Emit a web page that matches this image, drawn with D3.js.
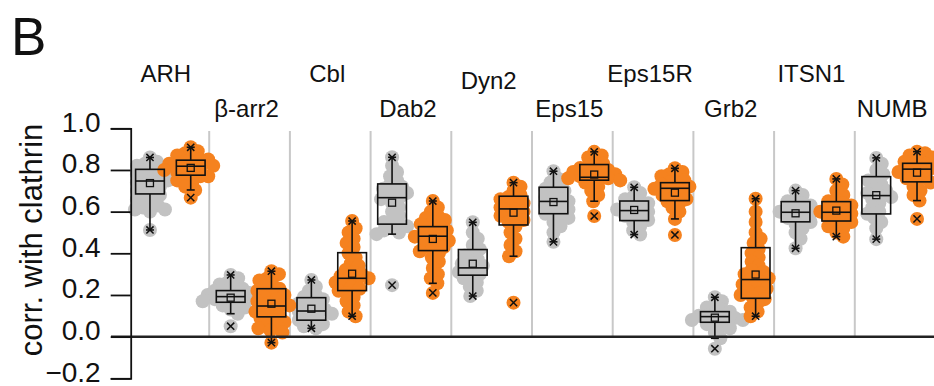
<!DOCTYPE html>
<html>
<head>
<meta charset="utf-8">
<script src="https://cdn.jsdelivr.net/npm/d3@7"></script>
<style>
  body { margin: 0; background: #fff; }
  svg { display: block; font-family: "Liberation Sans", Arial, sans-serif; }
</style>
</head>
<body>
<div id="chart"></div>
<script>
const categories = ["ARH", "\u03b2-arr2", "Cbl", "Dab2", "Dyn2", "Eps15", "Eps15R", "Grb2", "ITSN1", "NUMB"];
const yTicks = [-0.2, 0.0, 0.2, 0.4, 0.6, 0.8, 1.0];

// box stats per category: [xLow, whiskerLow, q1, median, q3, whiskerHigh, xHigh, mean]
const grayStats = [
  [0.512, 0.512, 0.685, 0.747, 0.803, 0.86, 0.86, 0.737],
  [0.05, 0.11, 0.165, 0.192, 0.221, 0.296, 0.296, 0.187],
  [0.04, 0.04, 0.079, 0.123, 0.187, 0.272, 0.272, 0.134],
  [0.247, 0.492, 0.54, 0.667, 0.733, 0.861, 0.861, 0.643],
  [0.195, 0.195, 0.295, 0.33, 0.418, 0.549, 0.549, 0.35],
  [0.455, 0.455, 0.59, 0.649, 0.717, 0.794, 0.794, 0.646],
  [0.49, 0.49, 0.557, 0.605, 0.651, 0.717, 0.717, 0.608],
  [-0.058, -0.008, 0.069, 0.096, 0.12, 0.189, 0.189, 0.091],
  [0.424, 0.424, 0.551, 0.597, 0.648, 0.701, 0.701, 0.592],
  [0.468, 0.468, 0.589, 0.677, 0.768, 0.858, 0.858, 0.679]
];
const orangeStats = [
  [0.667, 0.704, 0.775, 0.818, 0.847, 0.909, 0.909, 0.81],
  [-0.029, -0.029, 0.095, 0.147, 0.23, 0.314, 0.314, 0.158],
  [0.098, 0.098, 0.221, 0.28, 0.403, 0.555, 0.555, 0.302],
  [0.21, 0.256, 0.413, 0.482, 0.528, 0.651, 0.651, 0.469],
  [0.163, 0.386, 0.536, 0.613, 0.674, 0.739, 0.739, 0.595],
  [0.579, 0.65, 0.751, 0.765, 0.826, 0.887, 0.887, 0.778],
  [0.488, 0.565, 0.653, 0.712, 0.739, 0.808, 0.808, 0.691],
  [0.098, 0.098, 0.184, 0.274, 0.427, 0.662, 0.662, 0.298],
  [0.48, 0.48, 0.555, 0.597, 0.648, 0.757, 0.757, 0.605],
  [0.565, 0.653, 0.743, 0.804, 0.832, 0.888, 0.888, 0.787]
];

// individual cells (estimated from the dots)
const grayPoints = [
  [0.86, 0.84, 0.83, 0.82, 0.81, 0.80, 0.80, 0.79, 0.78, 0.77, 0.76, 0.75, 0.75, 0.74, 0.73, 0.72, 0.71, 0.70, 0.69, 0.68, 0.67, 0.66, 0.64, 0.63, 0.62, 0.61, 0.61, 0.60, 0.512],
  [0.296, 0.28, 0.26, 0.25, 0.24, 0.23, 0.22, 0.22, 0.21, 0.20, 0.20, 0.19, 0.19, 0.18, 0.18, 0.17, 0.17, 0.16, 0.15, 0.14, 0.13, 0.11, 0.05],
  [0.272, 0.24, 0.22, 0.20, 0.19, 0.18, 0.17, 0.16, 0.15, 0.14, 0.13, 0.12, 0.12, 0.11, 0.10, 0.09, 0.08, 0.07, 0.06, 0.05, 0.04],
  [0.861, 0.82, 0.79, 0.77, 0.75, 0.73, 0.72, 0.71, 0.70, 0.69, 0.68, 0.67, 0.66, 0.64, 0.62, 0.60, 0.58, 0.56, 0.55, 0.54, 0.53, 0.52, 0.51, 0.50, 0.492, 0.247],
  [0.549, 0.50, 0.47, 0.44, 0.42, 0.40, 0.39, 0.37, 0.36, 0.35, 0.34, 0.33, 0.32, 0.31, 0.30, 0.29, 0.28, 0.26, 0.24, 0.22, 0.195],
  [0.794, 0.76, 0.74, 0.72, 0.71, 0.70, 0.68, 0.67, 0.66, 0.65, 0.64, 0.63, 0.62, 0.61, 0.60, 0.59, 0.58, 0.57, 0.55, 0.53, 0.50, 0.455],
  [0.717, 0.69, 0.67, 0.66, 0.65, 0.64, 0.63, 0.62, 0.61, 0.61, 0.60, 0.59, 0.58, 0.57, 0.56, 0.55, 0.53, 0.51, 0.49],
  [0.189, 0.17, 0.15, 0.14, 0.13, 0.12, 0.11, 0.10, 0.10, 0.09, 0.09, 0.08, 0.08, 0.07, 0.06, 0.05, 0.04, 0.02, -0.008, -0.058],
  [0.701, 0.68, 0.66, 0.65, 0.64, 0.63, 0.62, 0.61, 0.60, 0.60, 0.59, 0.58, 0.57, 0.56, 0.55, 0.54, 0.52, 0.50, 0.47, 0.424],
  [0.858, 0.83, 0.80, 0.78, 0.76, 0.75, 0.73, 0.71, 0.70, 0.69, 0.68, 0.67, 0.66, 0.64, 0.62, 0.60, 0.59, 0.57, 0.55, 0.52, 0.468]
];
const orangePoints = [
  [0.909, 0.89, 0.88, 0.87, 0.86, 0.85, 0.85, 0.84, 0.83, 0.83, 0.82, 0.82, 0.81, 0.80, 0.80, 0.79, 0.78, 0.77, 0.77, 0.76, 0.75, 0.74, 0.72, 0.704, 0.667],
  [0.314, 0.30, 0.28, 0.27, 0.25, 0.24, 0.23, 0.22, 0.21, 0.20, 0.19, 0.18, 0.17, 0.16, 0.15, 0.15, 0.14, 0.13, 0.12, 0.11, 0.10, 0.09, 0.08, 0.07, 0.06, 0.05, 0.04, 0.03, 0.02, -0.029],
  [0.555, 0.52, 0.50, 0.47, 0.45, 0.43, 0.40, 0.38, 0.35, 0.34, 0.32, 0.31, 0.30, 0.29, 0.28, 0.28, 0.27, 0.26, 0.25, 0.24, 0.23, 0.22, 0.21, 0.19, 0.17, 0.15, 0.12, 0.098],
  [0.651, 0.62, 0.60, 0.58, 0.57, 0.56, 0.55, 0.54, 0.53, 0.52, 0.51, 0.50, 0.49, 0.48, 0.48, 0.47, 0.46, 0.45, 0.44, 0.43, 0.42, 0.41, 0.40, 0.38, 0.36, 0.33, 0.30, 0.28, 0.256, 0.21],
  [0.739, 0.72, 0.70, 0.68, 0.67, 0.66, 0.65, 0.64, 0.63, 0.62, 0.61, 0.60, 0.59, 0.58, 0.57, 0.56, 0.55, 0.53, 0.50, 0.47, 0.44, 0.41, 0.386, 0.163],
  [0.887, 0.87, 0.86, 0.84, 0.83, 0.82, 0.81, 0.80, 0.80, 0.79, 0.78, 0.78, 0.77, 0.77, 0.76, 0.76, 0.75, 0.75, 0.74, 0.72, 0.70, 0.68, 0.65, 0.579],
  [0.808, 0.79, 0.78, 0.77, 0.76, 0.75, 0.74, 0.73, 0.72, 0.72, 0.71, 0.70, 0.69, 0.68, 0.67, 0.66, 0.65, 0.64, 0.62, 0.60, 0.565, 0.488],
  [0.662, 0.60, 0.55, 0.50, 0.47, 0.45, 0.42, 0.40, 0.38, 0.36, 0.34, 0.32, 0.31, 0.30, 0.29, 0.28, 0.27, 0.26, 0.25, 0.24, 0.23, 0.22, 0.21, 0.20, 0.19, 0.18, 0.16, 0.14, 0.12, 0.098],
  [0.757, 0.73, 0.70, 0.68, 0.66, 0.65, 0.64, 0.63, 0.62, 0.61, 0.60, 0.60, 0.59, 0.58, 0.57, 0.56, 0.55, 0.54, 0.53, 0.52, 0.50, 0.48],
  [0.888, 0.88, 0.87, 0.86, 0.85, 0.84, 0.83, 0.82, 0.81, 0.80, 0.80, 0.79, 0.78, 0.77, 0.76, 0.75, 0.74, 0.72, 0.70, 0.68, 0.653, 0.565]
];

const W = 934, H = 386;
const svg = d3.select("#chart").append("svg").attr("width", W).attr("height", H);

const y = d3.scaleLinear().domain([-0.2, 1.0]).range([378.3, 128.3]);
const x = d3.scaleBand().domain(categories).range([128.5, 935.5]).padding(0);
const bw = x.bandwidth();
const boxW = bw * 0.356;
const dotR = 7;

const series = [
  { stats: grayStats, points: grayPoints, color: "#c2c2c2", off: 0.266 },
  { stats: orangeStats, points: orangePoints, color: "#f5821f", off: 0.771 }
];

// separators between genes
svg.append("g").selectAll("line")
  .data(categories.slice(1))
  .join("line")
  .attr("x1", d => x(d)).attr("x2", d => x(d))
  .attr("y1", 131).attr("y2", y(0))
  .attr("stroke", "#c8c8c8").attr("stroke-width", 2);

// simple beeswarm: keep points close to the centre, no heavy overlap
function swarm(values, cx, minD) {
  const placed = [];
  values.slice().sort((a, b) => b - a).forEach(v => {
    const yy = y(v);
    for (let k = 0; k < 200; k++) {
      const dx = (k % 2 ? 1 : -1) * Math.ceil(k / 2) * 0.5;
      const ok = placed.every(p => (p.x - (cx + dx)) ** 2 + (p.y - yy) ** 2 >= minD * minD);
      if (ok) { placed.push({ x: cx + dx, y: yy }); break; }
    }
  });
  return placed;
}

series.forEach(s => {
  categories.forEach((c, i) => {
    const cx = x(c) + bw * s.off;
    const pts = swarm(s.points[i], cx, 8);
    svg.append("g").selectAll("circle")
      .data(pts)
      .join("circle")
      .attr("cx", d => d.x).attr("cy", d => d.y).attr("r", dotR)
      .attr("fill", s.color);
  });
});

// boxes
series.forEach(s => {
  categories.forEach((c, i) => {
    const cx = x(c) + bw * s.off;
    const [xLo, wLo, q1, med, q3, wHi, xHi, mean] = s.stats[i];
    const g = svg.append("g").attr("stroke", "#111").attr("stroke-width", 1.6).attr("fill", "none");
    g.append("line").attr("x1", cx).attr("x2", cx).attr("y1", y(q3)).attr("y2", y(wHi));
    g.append("line").attr("x1", cx).attr("x2", cx).attr("y1", y(q1)).attr("y2", y(wLo));
    g.append("line").attr("x1", cx - 4).attr("x2", cx + 4).attr("y1", y(wHi)).attr("y2", y(wHi));
    g.append("line").attr("x1", cx - 4).attr("x2", cx + 4).attr("y1", y(wLo)).attr("y2", y(wLo));
    g.append("rect")
      .attr("x", cx - boxW / 2).attr("width", boxW)
      .attr("y", y(q3)).attr("height", y(q1) - y(q3));
    g.append("line").attr("x1", cx - boxW / 2).attr("x2", cx + boxW / 2).attr("y1", y(med)).attr("y2", y(med));
    g.append("rect")
      .attr("x", cx - 3.5).attr("y", y(mean) - 3.5).attr("width", 7).attr("height", 7)
      .attr("stroke-width", 1.3);
    [xLo, xHi].forEach(v => {
      const yy = y(v), a = 3.6;
      g.append("path")
        .attr("d", `M${cx - a},${yy - a}L${cx + a},${yy + a}M${cx - a},${yy + a}L${cx + a},${yy - a}`)
        .attr("stroke-width", 1.5);
    });
  });
});

// zero line
svg.append("line")
  .attr("x1", 111).attr("x2", W)
  .attr("y1", y(0)).attr("y2", y(0))
  .attr("stroke", "#222").attr("stroke-width", 2.5);

// y axis (bracket style)
const axis = svg.append("g")
  .attr("transform", "translate(130.7,0)")
  .call(d3.axisLeft(y).tickValues(yTicks).tickSize(20).tickSizeOuter(20).tickPadding(10).tickFormat(d3.format(".1f")));
axis.select(".domain").attr("stroke", "#111").attr("stroke-width", 1.8);
axis.selectAll(".tick line").attr("stroke", "#111").attr("stroke-width", 1.8);
axis.selectAll(".tick text")
  .attr("font-size", 28).attr("fill", "#111").attr("dy", "0.1em")
  .attr("font-family", "Liberation Sans, Arial, sans-serif");

svg.append("text")
  .attr("transform", "translate(42,240) rotate(-90)")
  .attr("text-anchor", "middle")
  .attr("font-size", 31).attr("fill", "#111")
  .text("corr. with clathrin");

// gene labels, staggered in two rows
svg.append("g").selectAll("text")
  .data(categories)
  .join("text")
  .attr("x", d => x(d) + bw / 2 - 3)
  .attr("y", (d, i) => (i % 2 ? 117 : 82) + (d === "Dyn2" ? 7 : 0))
  .attr("text-anchor", "middle")
  .attr("font-size", 24).attr("fill", "#111")
  .text(d => d);

svg.append("text")
  .attr("x", 11).attr("y", 55)
  .attr("font-size", 53).attr("fill", "#111")
  .text("B");
</script>
</body>
</html>
